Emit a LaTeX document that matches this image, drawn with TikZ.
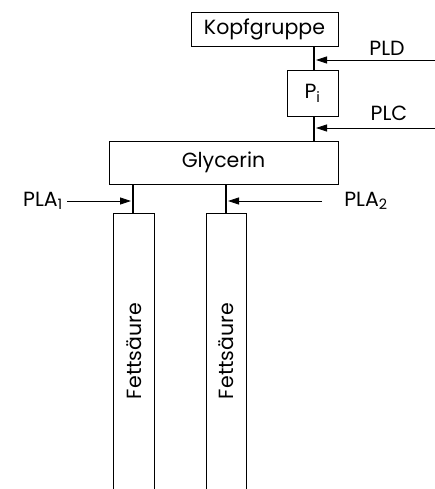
\documentclass[tikz,border=0pt]{standalone}
\usepackage{fontspec}
\setmainfont{Poppins}
\usetikzlibrary{arrows.meta}
\tikzset{
  txt/.style={font=\fontsize{20.5}{20.5}\selectfont, inner sep=0pt},
  box/.style={txt, draw, line width=0.8pt},
  stem/.style={line width=1.4pt},
  hit/.style={-{Triangle[length=11pt,width=7pt]}, line width=0.8pt, shorten >=2pt}
}
\begin{document}
\begin{tikzpicture}[x=1pt,y=-1pt]
	\useasboundingbox (0,0) rectangle (435,489);
	% boxes
	\node[box, minimum width=147pt, minimum height=34pt] (kopf) at (264.5,29) {Kopfgruppe};
	\node[box, minimum width=51pt, minimum height=46pt] (pi) at (312.5,93) {P\textsubscript{i}};
	\node[box, minimum width=229pt, minimum height=43pt] (gly) at (223.5,162.5) {Glycerin};
	% fatty acid chains, open at the bottom
	\draw[line width=0.8pt] (113,489) |- (154,213) -- (154,489);
	\draw[line width=0.8pt] (206,489) |- (246,213) -- (246,489);
	\coordinate (fs1top) at (133,213);
	\coordinate (fs2top) at (226,213);
	\node[txt, rotate=90] (fs1) at (134,351) {Fettsäure};
	\node[txt, rotate=90] (fs2) at (226.5,351) {Fettsäure};
	% bonds
	\coordinate (axis) at (314,0);
	\draw[stem] (kopf.south -| axis) -- (pi.north -| axis);
	\draw[stem] (pi.south -| axis) -- (gly.north -| axis);
	\draw[stem] (gly.south -| fs1top) -- (fs1top);
	\draw[stem] (gly.south -| fs2top) -- (fs2top);
	% cleavage sites
	\coordinate (pldin) at (435,60);
	\coordinate (plcin) at (435,128);
	\coordinate (pla1in) at (67,201);
	\coordinate (pla2in) at (322,201);
	\draw[hit] (pldin) -- (pldin -| axis);
	\draw[hit] (plcin) -- (plcin -| axis);
	\draw[hit] (pla1in) -- (pla1in -| fs1top);
	\draw[hit] (pla2in) -- (pla2in -| fs2top);
	\node[txt] (pld) at (387,48) {PLD};
	\node[txt] (plc) at (389,113) {PLC};
	\node[txt] (pla1) at (43,201) {PLA\textsubscript{1}};
	\node[txt] (pla2) at (366,201) {PLA\textsubscript{2}};
\end{tikzpicture}
\end{document}
